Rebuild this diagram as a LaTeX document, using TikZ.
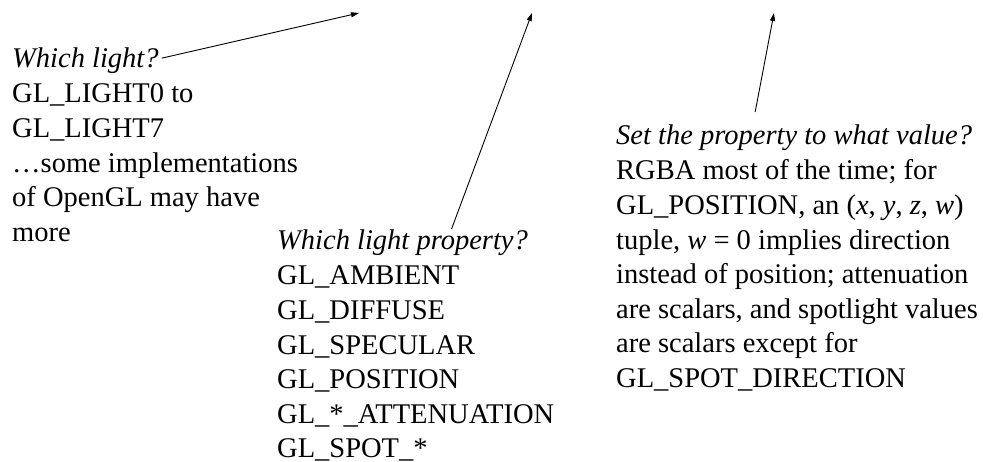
\documentclass[tikz,border=0pt]{standalone}
\usepackage{fontspec}
\setmainfont{Liberation Serif}
\usetikzlibrary{arrows.meta}
\begin{document}
\begin{tikzpicture}[x=1pt,y=-1pt,
  txt/.style={anchor=base west, inner sep=0pt,
    font=\fontsize{28.5}{34.6}\selectfont},
  head/.style={txt, font=\fontsize{28.5}{34.6}\selectfont\itshape},
  pointer/.style={line width=0.9pt, -{Triangle[length=8pt,width=5pt]}}]
\useasboundingbox (0,0) rectangle (983,462);

% block 1: which light
\node[head] (h1) at (12,68) {Which light?};
\node[txt]  (b1) at (12,103) {\begin{tabular}[t]{@{}l@{}}
  GL\_LIGHT0 to\\
  GL\_LIGHT7\\
  …some implementations\\
  of OpenGL may have\\
  more\end{tabular}};

% block 2: which property
\node[head] (h2) at (277,250) {Which light property?};
\node[txt]  (b2) at (277,285) {\begin{tabular}[t]{@{}l@{}}
  GL\_AMBIENT\\
  GL\_DIFFUSE\\
  GL\_SPECULAR\\
  GL\_POSITION\\
  GL\_*\_ATTENUATION\\
  GL\_SPOT\_*\end{tabular}};

% block 3: which value
\node[head] (h3) at (616,145) {Set the property to what value?};
\node[txt]  (b3) at (616,180) {\begin{tabular}[t]{@{}l@{}}
  RGBA most of the time; for\\
  GL\_POSITION, an (\textit{x}, \textit{y}, \textit{z}, \textit{w})\\
  tuple, \textit{w} = 0 implies direction\\
  instead of position; attenuation\\
  are scalars, and spotlight values\\
  are scalars except for\\
  GL\_SPOT\_DIRECTION\end{tabular}};

% targets in the call above
\coordinate (a1) at (359,13);
\coordinate (a2) at (532,13);
\coordinate (a3) at (774,13);

\draw[pointer] ([xshift=3pt,yshift=3pt]h1.east) -- (a1);
\draw[pointer] ([xshift=49pt,yshift=1pt]h2.north) -- (a2);
\draw[pointer] ([xshift=-39pt,yshift=13pt]h3.north) -- (a3);
\end{tikzpicture}
\end{document}
